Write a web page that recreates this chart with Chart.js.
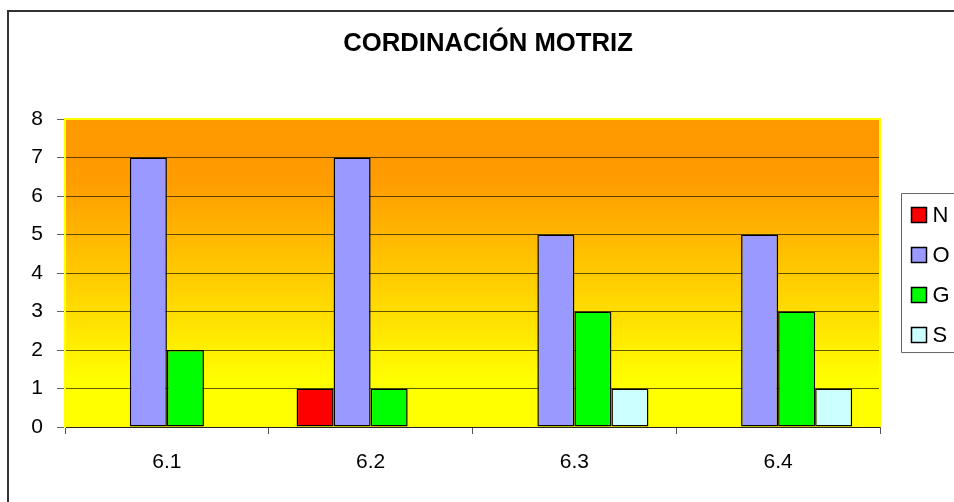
<!DOCTYPE html>
<html>
<head>
<meta charset="utf-8">
<script src="https://cdn.jsdelivr.net/npm/chart.js@4/dist/chart.umd.min.js"></script>
<style>
  html, body { margin: 0; padding: 0; background: #fff; overflow: hidden; }
  #wrap { position: absolute; left: 0; top: 0; width: 976px; height: 520px; }
</style>
</head>
<body>
<div id="wrap"><canvas id="chart"></canvas></div>
<script>
// --- datos ---
const categories = ['6.1', '6.2', '6.3', '6.4'];
const seriesNames = ['N', 'O', 'G', 'S'];
const valuesN = [0, 1, 0, 0];
const valuesO = [7, 7, 5, 5];
const valuesG = [2, 1, 3, 3];
const valuesS = [0, 0, 1, 1];
const yTicks = [0, 1, 2, 3, 4, 5, 6, 7, 8];

const FONT = '"Liberation Sans", Arial, sans-serif';
const GRID = 'rgba(0,0,0,0.62)';

// --- fondo degradado del área de trazado ---
const plotBackground = {
    id: 'plotBackground',
    beforeDraw(chart) {
        const { ctx, chartArea: a } = chart;
        const g = ctx.createLinearGradient(0, a.top, 0, a.bottom);
        g.addColorStop(0, '#ff9900');
        g.addColorStop(0.2, '#ff9c00');
        g.addColorStop(0.85, '#ffff00');
        g.addColorStop(1, '#ffff00');
        ctx.save();
        ctx.fillStyle = g;
        ctx.fillRect(a.left, a.top, a.right - a.left, a.bottom - a.top);
        ctx.restore();
    },
    afterDraw(chart) {
        const { ctx, chartArea: a } = chart;
        ctx.save();
        // borde amarillo del área
        ctx.strokeStyle = '#ffff00';
        ctx.lineWidth = 2;
        ctx.beginPath();
        ctx.moveTo(a.left, a.bottom);
        ctx.lineTo(a.left, a.top);
        ctx.lineTo(a.right, a.top);
        ctx.lineTo(a.right, a.bottom);
        ctx.stroke();
        // marco exterior (solo arriba e izquierda quedan a la vista)
        ctx.strokeStyle = '#333';
        ctx.lineWidth = 2;
        ctx.beginPath();
        ctx.moveTo(8, chart.height + 10);
        ctx.lineTo(8, 11);
        ctx.lineTo(chart.width + 10, 11);
        ctx.stroke();
        ctx.restore();
    }
};

// --- leyenda con recuadro (el lado derecho queda fuera) ---
const boxedLegend = {
    id: 'boxedLegend',
    afterDraw(chart) {
        const { ctx, chartArea: a } = chart;
        const x0 = a.right + 21.5;
        const y0 = a.top + 74.5;
        ctx.save();
        ctx.strokeStyle = '#666';
        ctx.lineWidth = 1;
        ctx.beginPath();
        ctx.moveTo(chart.width + 10, y0);
        ctx.lineTo(x0, y0);
        ctx.lineTo(x0, y0 + 159);
        ctx.lineTo(chart.width + 10, y0 + 159);
        ctx.stroke();
        ctx.font = '22px ' + FONT;
        ctx.textBaseline = 'middle';
        chart.data.datasets.forEach((ds, i) => {
            const cy = Math.round(y0 + 21 + i * 40);
            ctx.fillStyle = ds.backgroundColor;
            ctx.fillRect(x0 + 10, cy - 7.5, 15, 15);
            ctx.strokeStyle = '#000';
            ctx.lineWidth = 1.5;
            ctx.strokeRect(x0 + 10, cy - 7.5, 15, 15);
            ctx.fillStyle = '#000';
            ctx.fillText(ds.label, x0 + 31, cy + 1);
        });
        ctx.restore();
    }
};

const colors = ['#ff0000', '#9999ff', '#00ff00', '#ccffff'];
const allValues = [valuesN, valuesO, valuesG, valuesS];

new Chart(document.getElementById('chart'), {
    type: 'bar',
    data: {
        labels: categories,
        datasets: seriesNames.map((name, i) => ({
            label: name,
            data: allValues[i],
            backgroundColor: colors[i],
            borderColor: '#000',
            borderWidth: 1.5,
            borderSkipped: false,
            categoryPercentage: 0.727,
            barPercentage: 1
        }))
    },
    options: {
        responsive: true,
        maintainAspectRatio: false,
        animation: false,
        layout: { padding: 0 },
        plugins: {
            legend: { display: false },
            tooltip: { enabled: false },
            title: {
                display: true,
                text: 'CORDINACIÓN MOTRIZ',
                color: '#000',
                font: { family: FONT, size: 25.7, weight: 'bold' },
                padding: { top: 28, bottom: 60.2 }
            }
        },
        scales: {
            x: {
                grid: { offset: true, drawOnChartArea: false, tickLength: 7, color: '#555' },
                border: { color: GRID, width: 1 },
                ticks: { color: '#000', font: { family: FONT, size: 21 }, padding: 16 },
                afterFit(s) { s.height = 93; }
            },
            y: {
                min: 0,
                max: 8,
                afterBuildTicks(s) { s.ticks = yTicks.map(v => ({ value: v })); },
                grid: { color: GRID, lineWidth: 1, tickLength: 8 },
                border: { color: '#ffff00', width: 2 },
                ticks: { color: '#000', font: { family: FONT, size: 21 }, padding: 14 },
                afterFit(s) { s.width = 65; }
            },
            // espacio reservado para la leyenda
            side: {
                position: 'right',
                grid: { display: false },
                border: { display: false },
                ticks: { display: false },
                afterFit(s) { s.width = 96; }
            }
        }
    },
    plugins: [plotBackground, boxedLegend]
});
</script>
</body>
</html>
